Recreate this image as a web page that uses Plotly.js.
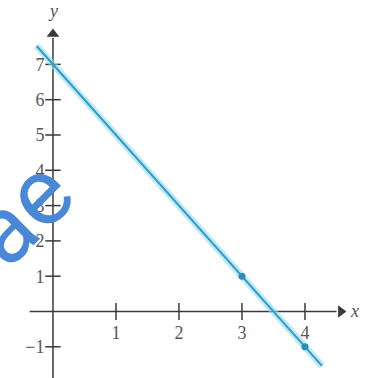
<!DOCTYPE html>
<html>
<head>
<meta charset="utf-8">
<script src="https://cdn.plot.ly/plotly-3.0.1.min.js"></script>
<style>
  html, body { margin: 0; padding: 0; background: #ffffff; }
  #chart { width: 371px; height: 378px; }
</style>
</head>
<body>
<div id="chart"></div>
<script>
// Line y = -2x + 7, drawn between its two visible ends
const lineX = [-0.26, 4.27];
const lineY = [7.52, -1.54];

// Marked points on the line
const pointX = [3, 4];
const pointY = [1, -1];

// Tick values and their labels
const xTickVals = [1, 2, 3, 4];
const xTickText = ['1', '2', '3', '4'];
const yTickVals = [-1, 1, 2, 3, 4, 5, 6, 7];
const yTickText = ['\u22121', '1', '2', '3', '4', '5', '6', '7'];

// Extents of the drawn axes (arrow ends included)
const xAxisSpan = [-0.37, 4.5];
const yAxisSpan = [-1.95, 7.75];
const xArrowAt = 4.57;
const yArrowAt = 7.86;

const axisColor = '#3a3a3a';
const labelColor = '#555555';
const serif = '"Liberation Serif", "DejaVu Serif", serif';

const traces = [
  // axes
  { x: xAxisSpan, y: [0, 0], mode: 'lines', line: { color: axisColor, width: 1.5 }, hoverinfo: 'skip' },
  { x: [0, 0], y: yAxisSpan, mode: 'lines', line: { color: axisColor, width: 1.5 }, hoverinfo: 'skip' },
  // arrow heads
  { x: [xArrowAt], y: [0], mode: 'markers', marker: { symbol: 'triangle-right', size: 11, color: axisColor }, hoverinfo: 'skip' },
  { x: [0], y: [yArrowAt], mode: 'markers', marker: { symbol: 'triangle-up', size: 11, color: axisColor }, hoverinfo: 'skip' },
  // tick marks crossing the axes
  { x: xTickVals, y: xTickVals.map(() => 0), mode: 'markers',
    marker: { symbol: 'line-ns', size: 12, line: { color: axisColor, width: 1.5 } }, hoverinfo: 'skip' },
  { x: yTickVals.map(() => 0), y: yTickVals, mode: 'markers',
    marker: { symbol: 'line-ew', size: 11, line: { color: axisColor, width: 1.5 } }, hoverinfo: 'skip' },
  // soft halo under the line
  { x: lineX, y: lineY, mode: 'lines', line: { color: 'rgba(150,218,242,0.6)', width: 7 }, hoverinfo: 'skip' },
  // the line itself
  { x: lineX, y: lineY, mode: 'lines', line: { color: '#2f9dc2', width: 2 }, hoverinfo: 'skip' },
  // points on the line
  { x: pointX, y: pointY, mode: 'markers', marker: { color: '#2a8cbf', size: 7 }, hoverinfo: 'skip' }
];

const layout = {
  width: 371,
  height: 378,
  margin: { l: 0, r: 0, t: 0, b: 0 },
  paper_bgcolor: '#ffffff',
  plot_bgcolor: '#ffffff',
  showlegend: false,
  xaxis: {
    range: [-0.841, 5.048],
    showgrid: false, zeroline: false, showline: false,
    ticks: '',
    tickmode: 'array', tickvals: xTickVals, ticktext: xTickText,
    anchor: 'free', position: 0.176,
    ticklabelstandoff: 9,
    tickfont: { family: serif, size: 18, color: labelColor },
    automargin: false, fixedrange: true
  },
  yaxis: {
    range: [-1.884, 8.824],
    showgrid: false, zeroline: false, showline: false,
    ticks: '',
    tickmode: 'array', tickvals: yTickVals, ticktext: yTickText,
    anchor: 'free', position: 0.144,
    ticklabelstandoff: 9,
    tickfont: { family: serif, size: 18, color: labelColor },
    automargin: false, fixedrange: true
  },
  annotations: [
    { text: 'y', x: 0, y: 8.5, xref: 'x', yref: 'y', showarrow: false,
      font: { family: serif, size: 18, color: labelColor, style: 'italic' } },
    { text: 'x', x: 4.68, y: 0.02, xref: 'x', yref: 'y', showarrow: false, xanchor: 'left',
      font: { family: serif, size: 18, color: labelColor, style: 'italic' } },
    // watermark lettering
    { text: 'ae', x: 0.054, y: 0.439, xref: 'paper', yref: 'paper', showarrow: false,
      xanchor: 'center', yanchor: 'middle', textangle: -45,
      font: { family: 'Roboto, "Liberation Sans", sans-serif', size: 95, color: '#4a87d6' } }
  ]
};

Plotly.newPlot('chart', traces, layout, { displayModeBar: false, staticPlot: true });
</script>
</body>
</html>
